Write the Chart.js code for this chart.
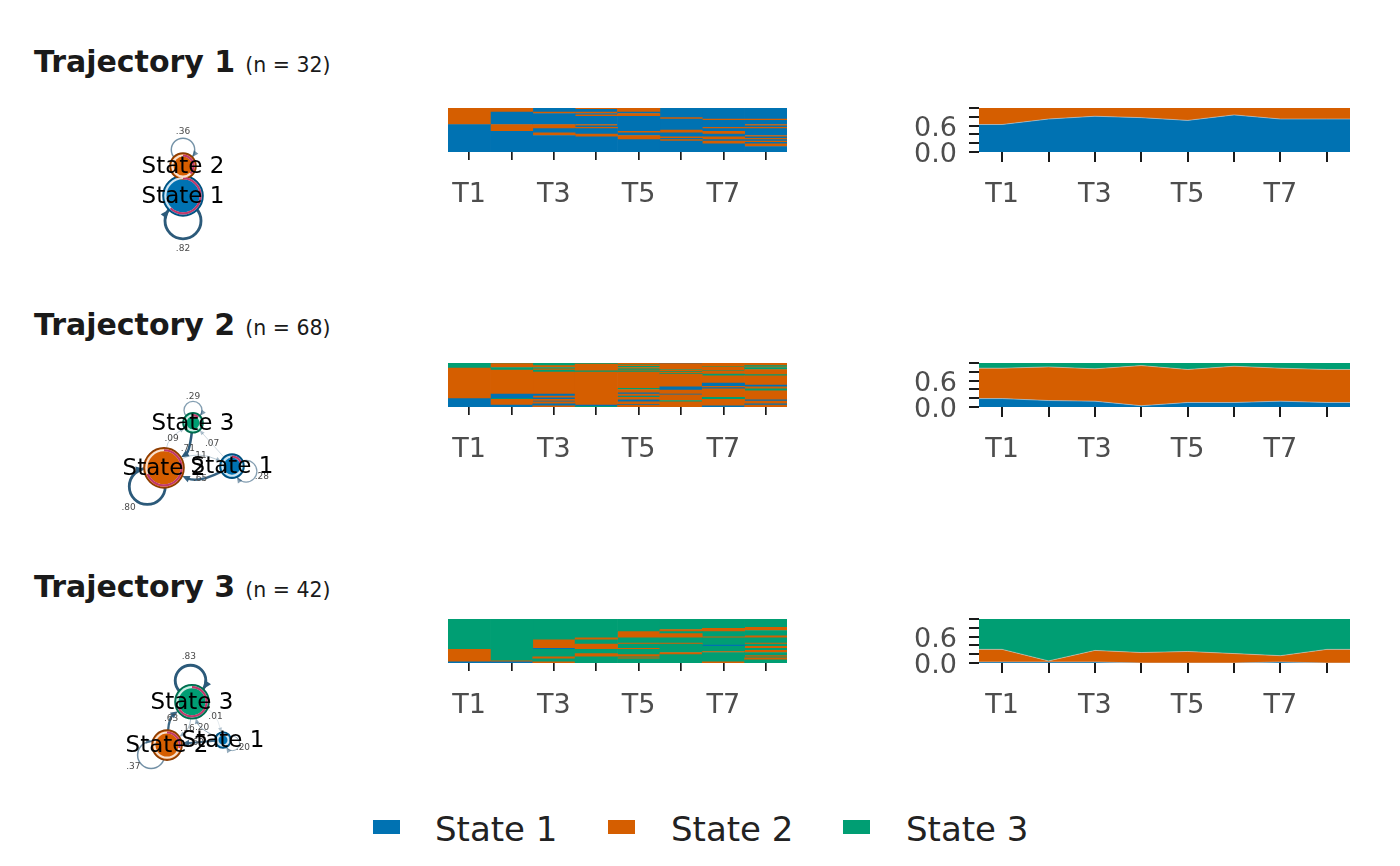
<!DOCTYPE html>
<html><head><meta charset="utf-8">
<script src="https://cdn.jsdelivr.net/npm/chart.js@4.4.0/dist/chart.umd.min.js"></script>
<style>
body{margin:0;background:#fff;width:1400px;height:866px;position:relative;overflow:hidden;font-family:'DejaVu Sans',sans-serif;}
canvas{position:absolute;display:block;}
.title{position:absolute;left:34px;font-size:30px;line-height:30px;font-weight:bold;color:#1a1a1a;white-space:nowrap;}
.title span{font-weight:normal;font-size:20.5px;margin-left:10px;}
.lsq{position:absolute;width:27px;height:14px;top:820px;}
.ltx{position:absolute;top:812px;font-size:34px;line-height:34px;color:#222;white-space:nowrap;}
</style></head><body>
<canvas id="net1" width="200" height="170" style="left:90px;top:110px"></canvas>
<canvas id="net2" width="200" height="170" style="left:90px;top:365px"></canvas>
<canvas id="net3" width="200" height="170" style="left:90px;top:621px"></canvas>
<canvas id="seq1" width="339" height="110" style="left:448px;top:108px"></canvas>
<canvas id="seq2" width="339" height="110" style="left:448px;top:363px"></canvas>
<canvas id="seq3" width="339" height="110" style="left:448px;top:619px"></canvas>
<canvas id="dist1" width="460" height="117" style="left:890px;top:101px"></canvas>
<canvas id="dist2" width="460" height="117" style="left:890px;top:356px"></canvas>
<canvas id="dist3" width="460" height="117" style="left:890px;top:612px"></canvas>
<script>
// ---------- data ----------
const timeLabels = ['T1','T2','T3','T4','T5','T6','T7','T8'];
const stateNames = ['State 1','State 2','State 3'];
const trajNames = ['Trajectory 1','Trajectory 2','Trajectory 3'];
const trajSizes = [32, 68, 42];
const yTickValues = [0, 0.2, 0.4, 0.6, 0.8, 1];
const yTickLabels = ['0.0', '', '', '0.6', '', ''];

// sequence index columns: runs [state, count] from top to bottom, one list per time point
const traj1Runs = [
  [[2,12],[1,20]],
  [[2,3],[1,9],[2,5],[1,15]],
  [[1,3],[2,1],[1,8],[2,3],[1,3],[2,2],[1,12]],
  [[2,1],[1,2],[2,1],[1,1],[2,1],[1,6],[2,1],[1,1],[2,1],[1,4],[2,2],[1,11]],
  [[2,3],[1,1],[2,2],[1,11],[2,1],[1,2],[2,3],[1,9]],
  [[1,7],[2,1],[1,8],[2,2],[1,3],[2,1],[1,1],[2,1],[1,8]],
  [[1,8],[2,1],[1,5],[2,1],[1,2],[2,2],[1,2],[2,2],[1,1],[2,2],[1,6]],
  [[1,8],[2,1],[1,3],[2,1],[1,1],[2,1],[1,5],[2,1],[1,1],[2,1],[1,1],[2,1],[1,1],[2,2],[1,4]]
];
const traj2Runs = [
  [[3,8],[2,47],[1,13]],
  [[3,1],[2,6],[3,4],[2,37],[1,7],[3,1],[2,9],[1,3]],
  [[3,4],[2,3],[3,2],[2,2],[3,3],[2,34],[1,3],[2,3],[1,2],[2,3],[1,1],[2,3],[1,3],[2,2]],
  [[2,1],[3,1],[2,10],[3,2],[2,51],[1,2],[3,1]],
  [[2,2],[3,1],[2,2],[3,2],[2,2],[3,2],[2,1],[3,2],[2,25],[3,2],[2,5],[1,2],[2,3],[1,1],[3,1],[2,4],[1,3],[2,4],[1,1],[2,3]],
  [[1,1],[2,9],[3,1],[2,2],[3,1],[2,2],[3,1],[2,20],[1,5],[2,6],[1,1],[2,9],[3,2],[2,8]],
  [[2,5],[3,1],[2,6],[3,1],[2,4],[3,3],[2,11],[1,5],[2,2],[1,2],[2,13],[3,3],[2,10],[1,2]],
  [[2,4],[3,2],[2,1],[3,3],[2,8],[3,2],[2,14],[1,3],[2,3],[3,3],[2,14],[1,2],[2,4],[1,2],[2,3]]
];
const traj3Runs = [
  [[3,29],[2,12],[1,1]],
  [[3,40],[2,1],[1,1]],
  [[3,20],[2,8],[1,1],[3,7],[2,2],[3,3],[2,1]],
  [[3,18],[2,2],[3,4],[2,5],[3,4],[2,3],[3,6]],
  [[3,12],[2,6],[3,5],[2,1],[3,4],[2,1],[3,5],[2,2],[3,1],[2,1],[3,4]],
  [[3,10],[2,2],[3,2],[2,4],[3,5],[2,1],[3,8],[2,2],[3,8]],
  [[3,9],[2,3],[3,5],[2,1],[3,7],[1,1],[3,5],[2,1],[3,9],[2,1]],
  [[3,8],[2,3],[3,5],[2,2],[3,5],[2,1],[3,2],[2,2],[3,2],[2,2],[3,3],[2,1],[3,1],[2,2],[3,3]]
];

// transition probabilities (rows = from, cols = to), states listed in *States
const traj1States = [1,2];
const traj1Trans = [[0.82,0.18],[0.64,0.36]];
const traj2States = [1,2,3];
const traj2Trans = [[0.28,0.65,0.07],[0.11,0.80,0.09],[0.00,0.71,0.29]];
const traj3States = [1,2,3];
const traj3Trans = [[0.20,0.60,0.20],[0.00,0.37,0.63],[0.01,0.16,0.83]];

// network layout (abstract layout units)
const traj1Layout = [[-0.07,-0.01],[-0.07,0.34]];
const traj2Layout = [[0.42,-0.19],[-0.26,-0.21],[0.03,0.32]];
const traj3Layout = [[0.33,-0.40],[-0.23,-0.46],[0.02,0.05]];

// ---------- styles ----------
const COLORS = ['#0072B2','#D55E00','#009E73'];
const RINGS = ['#00507d','#8c3c00','#006a4d'];
const PIE = '#c0396b';
const EDGE_RGB = '44,90,122';
const traj1NodeR = [20,13];
const traj2NodeR = [12,20,10];
const traj3NodeR = [8,15,17];
const traj1LoopAng = [270,90];
const traj2LoopAng = [-20,228,90];
const traj3LoopAng = [-20,212,94];

Chart.defaults.font.family = "'DejaVu Sans', sans-serif";

// ---------- titles & legend ----------
const titleTops = [47, 310, 572];
trajNames.forEach((t,i)=>{
  const d=document.createElement('div'); d.className='title'; d.style.top=titleTops[i]+'px';
  d.textContent=t; const s=document.createElement('span'); s.textContent='(n = '+trajSizes[i]+')'; d.appendChild(s);
  document.body.appendChild(d);
});
const legSq=[373,608,843], legTx=[435,671,906];
stateNames.forEach((n,i)=>{
  const q=document.createElement('div'); q.className='lsq'; q.style.left=legSq[i]+'px'; q.style.background=COLORS[i]; document.body.appendChild(q);
  const t=document.createElement('div'); t.className='ltx'; t.style.left=legTx[i]+'px'; t.textContent=n; document.body.appendChild(t);
});

// ---------- helpers ----------
function proportions(runs, n){
  const p=[[],[],[]];
  runs.forEach(col=>{
    const c=[0,0,0]; col.forEach(r=>{c[r[0]-1]+=r[1];});
    for(let s=0;s<3;s++) p[s].push(c[s]/n);
  });
  return p;
}

const baseOpts = {responsive:false, animation:false, events:[], plugins:{legend:{display:false}, tooltip:{enabled:false}}};
function noPad(s){ s.paddingLeft=0; s.paddingRight=0; s.paddingTop=0; s.paddingBottom=0; }

function makeSeq(id, runs, n){
  const maxRuns=Math.max(...runs.map(c=>c.length));
  const ds=[];
  for(let k=0;k<maxRuns;k++){
    const data=[], bg=[];
    runs.forEach(col=>{
      const rev=col.slice().reverse(); const r=rev[k];
      data.push(r?r[1]:0); bg.push(r?COLORS[r[0]-1]:'rgba(0,0,0,0)');
    });
    ds.push({data, backgroundColor:bg, borderWidth:0, barPercentage:1, categoryPercentage:1, stack:'s'});
  }
  new Chart(document.getElementById(id), {
    type:'bar',
    data:{labels:timeLabels, datasets:ds},
    options:Object.assign({}, baseOpts, {
      layout:{padding:0, autoPadding:false},
      scales:{
        x:{stacked:true, offset:true,
           grid:{offset:false, drawOnChartArea:false, drawTicks:true, tickLength:8, color:'#1a1a1a', lineWidth:1.7},
           border:{display:false},
           ticks:{autoSkip:false, maxRotation:0, padding:19, color:'#4d4d4d', font:{size:27},
                  callback:(v,i)=> i%2===0 ? timeLabels[i] : ''},
           afterFit:(s)=>{s.height=66; noPad(s);}},
        y:{stacked:true, display:false, min:0, max:n, bounds:'data'}
      }
    })
  });
}

function makeDist(id, runs, n, nStates){
  const p=proportions(runs,n);
  let cum=new Array(timeLabels.length).fill(0);
  const ds=[];
  for(let s=0;s<nStates;s++){
    cum=cum.map((v,i)=>v+p[s][i]);
    const pts=cum.map((v,i)=>({x:i+1,y:v}));
    const data=[{x:0.5,y:cum[0]}].concat(pts,[{x:timeLabels.length+0.5,y:cum[cum.length-1]}]);
    ds.push({data, fill: s===0?'origin':'-1', backgroundColor:COLORS[s],
             borderColor:'rgba(205,205,205,0.8)', borderWidth: s===nStates-1?0:0.7, pointRadius:0, tension:0});
  }
  new Chart(document.getElementById(id), {
    type:'line',
    data:{datasets:ds},
    options:Object.assign({}, baseOpts, {
      layout:{padding:{top:7,right:0,left:0,bottom:0}, autoPadding:false},
      scales:{
        x:{type:'linear', min:0.5, max:timeLabels.length+0.5, bounds:'data',
           afterBuildTicks:(s)=>{s.ticks=timeLabels.map((_,i)=>({value:i+1}));},
           grid:{drawOnChartArea:false, tickLength:10, color:'#1a1a1a', lineWidth:2},
           border:{display:false},
           ticks:{autoSkip:false, maxRotation:0, padding:17, color:'#4d4d4d', font:{size:27},
                  callback:(v)=> (Math.round(v)%2===1) ? timeLabels[Math.round(v)-1] : ''},
           afterFit:(s)=>{s.height=66; noPad(s);}},
        y:{min:0, max:1, bounds:'data',
           afterBuildTicks:(s)=>{s.ticks=yTickValues.map(v=>({value:v}));},
           grid:{drawOnChartArea:false, tickLength:10, color:'#1a1a1a', lineWidth:2},
           border:{display:false},
           ticks:{autoSkip:false, padding:12, labelOffset:3, color:'#4d4d4d', font:{size:27},
                  callback:(v,i)=> yTickLabels[i]},
           afterFit:(s)=>{s.width=89; noPad(s);}}
      }
    })
  });
}

function edgeStyle(w){ return {lw:0.4+3*w, col:'rgba('+EDGE_RGB+','+Math.min(1,0.3+w)+')'}; }
function fmtW(w){ return w.toFixed(2).replace(/^0/,''); }
function edgeLabel(ctx, txt, x, y){
  ctx.save(); ctx.font='9px "DejaVu Sans"'; ctx.fillStyle='#4a4a4a'; ctx.textAlign='center'; ctx.textBaseline='middle';
  ctx.fillText(txt, x, y); ctx.restore();
}
function arrowHead(ctx, tip, dir, size, col){
  const bx=tip[0]-dir[0]*size, by=tip[1]-dir[1]*size;
  const px=-dir[1]*size*0.45, py=dir[0]*size*0.45;
  ctx.fillStyle=col; ctx.beginPath(); ctx.moveTo(tip[0],tip[1]); ctx.lineTo(bx+px,by+py); ctx.lineTo(bx-px,by-py); ctx.closePath(); ctx.fill();
}
function drawEdge(ctx, A, B, ra, rb, w, curved){
  const dx=B[0]-A[0], dy=B[1]-A[1], dist=Math.hypot(dx,dy);
  if(dist<=ra+rb+2) return;
  const ux=dx/dist, uy=dy/dist, bend=curved?dist*0.12:0;
  const mx=(A[0]+B[0])/2+uy*bend*2, my=(A[1]+B[1])/2-ux*bend*2;
  const sx=mx-A[0], sy=my-A[1], sl=Math.hypot(sx,sy);
  const S=[A[0]+sx/sl*ra, A[1]+sy/sl*ra];
  const ex=mx-B[0], ey=my-B[1], el=Math.hypot(ex,ey);
  const E=[B[0]+ex/el*rb, B[1]+ey/el*rb];
  const st=edgeStyle(w), ah=4+st.lw*1.5, ed=[-ex/el,-ey/el];
  const LE=[E[0]-ed[0]*ah*0.7, E[1]-ed[1]*ah*0.7];
  ctx.strokeStyle=st.col; ctx.lineWidth=st.lw; ctx.beginPath(); ctx.moveTo(S[0],S[1]); ctx.quadraticCurveTo(mx,my,LE[0],LE[1]); ctx.stroke();
  arrowHead(ctx,E,ed,ah,st.col);
  edgeLabel(ctx, fmtW(w), 0.25*S[0]+0.5*mx+0.25*E[0], 0.25*S[1]+0.5*my+0.25*E[1]);
}
function drawLoop(ctx, P, r, angDeg, w){
  const a=angDeg*Math.PI/180, dir=[Math.cos(a),-Math.sin(a)];
  const D=r*1.25, R=r*0.9, C=[P[0]+dir[0]*D, P[1]+dir[1]*D];
  const st=edgeStyle(w);
  ctx.strokeStyle=st.col; ctx.lineWidth=st.lw; ctx.beginPath(); ctx.arc(C[0],C[1],R,0,Math.PI*2); ctx.stroke();
  const aa=(D*D+r*r-R*R)/(2*D), h=Math.sqrt(Math.max(0,r*r-aa*aa)), perp=[-dir[1],dir[0]];
  const tip=[P[0]+dir[0]*aa+perp[0]*h, P[1]+dir[1]*aa+perp[1]*h];
  const rv=[tip[0]-C[0],tip[1]-C[1]], rl=Math.hypot(rv[0],rv[1]);
  let t=[-rv[1]/rl, rv[0]/rl];
  if((P[0]-tip[0])*t[0]+(P[1]-tip[1])*t[1]<0) t=[-t[0],-t[1]];
  arrowHead(ctx, tip, t, 4+st.lw*1.5, st.col);
  const g=D+R+r*0.5;
  edgeLabel(ctx, fmtW(w), P[0]+dir[0]*g, P[1]+dir[1]*g);
}

function makeNet(id, states, trans, layout, radii, loopAng, runs, n){
  const p=proportions(runs,n);
  const pie=states.map(s=>p[s-1][0]);
  const nodes=layout.map(l=>({x:l[0],y:l[1]}));
  const pix=(chart)=>nodes.map(nd=>[chart.scales.x.getPixelForValue(nd.x), chart.scales.y.getPixelForValue(nd.y)]);
  const plugin={
    id:'net_'+id,
    beforeDatasetsDraw(chart){
      const ctx=chart.ctx, P=pix(chart);
      const list=[];
      trans.forEach((row,i)=>row.forEach((w,j)=>{ if(w>0) list.push([i,j,w]); }));
      list.sort((a,b)=>a[2]-b[2]);
      ctx.save();
      list.forEach(([i,j,w])=>{
        if(i===j) drawLoop(ctx,P[i],radii[i],loopAng[i],w);
        else drawEdge(ctx,P[i],P[j],radii[i],radii[j],w, trans[j][i]>0);
      });
      ctx.restore();
    },
    afterDatasetsDraw(chart){
      const ctx=chart.ctx, P=pix(chart);
      ctx.save();
      P.forEach((pt,i)=>{
        const r=radii[i];
        ctx.lineWidth=2.2;
        ctx.strokeStyle='rgba(255,255,255,0.8)';
        ctx.beginPath(); ctx.arc(pt[0],pt[1],r-2.4,0,Math.PI*2); ctx.stroke();
        if(pie[i]>0){ ctx.strokeStyle=PIE; ctx.beginPath(); ctx.arc(pt[0],pt[1],r-2.4,-Math.PI/2,-Math.PI/2+Math.PI*2*pie[i]); ctx.stroke(); }
      });
      ctx.font='23px "DejaVu Sans"'; ctx.fillStyle='#000'; ctx.textAlign='center'; ctx.textBaseline='middle';
      P.forEach((pt,i)=>{ ctx.fillText(stateNames[states[i]-1], pt[0], pt[1]+1); });
      ctx.restore();
    }
  };
  new Chart(document.getElementById(id), {
    type:'scatter',
    data:{datasets:[{data:nodes, clip:false, pointRadius:radii,
      pointBackgroundColor:states.map(s=>COLORS[s-1]), pointBorderColor:states.map(s=>RINGS[s-1]), pointBorderWidth:1.6}]},
    options:Object.assign({}, baseOpts, {
      layout:{padding:0, autoPadding:false},
      scales:{x:{display:false,min:-1,max:1,bounds:'data'}, y:{display:false,min:-1,max:1,bounds:'data'}}
    }),
    plugins:[plugin]
  });
}

makeSeq('seq1', traj1Runs, trajSizes[0]);
makeSeq('seq2', traj2Runs, trajSizes[1]);
makeSeq('seq3', traj3Runs, trajSizes[2]);
makeDist('dist1', traj1Runs, trajSizes[0], 2);
makeDist('dist2', traj2Runs, trajSizes[1], 3);
makeDist('dist3', traj3Runs, trajSizes[2], 3);
makeNet('net1', traj1States, traj1Trans, traj1Layout, traj1NodeR, traj1LoopAng, traj1Runs, trajSizes[0]);
makeNet('net2', traj2States, traj2Trans, traj2Layout, traj2NodeR, traj2LoopAng, traj2Runs, trajSizes[1]);
makeNet('net3', traj3States, traj3Trans, traj3Layout, traj3NodeR, traj3LoopAng, traj3Runs, trajSizes[2]);
</script>
</body></html>
